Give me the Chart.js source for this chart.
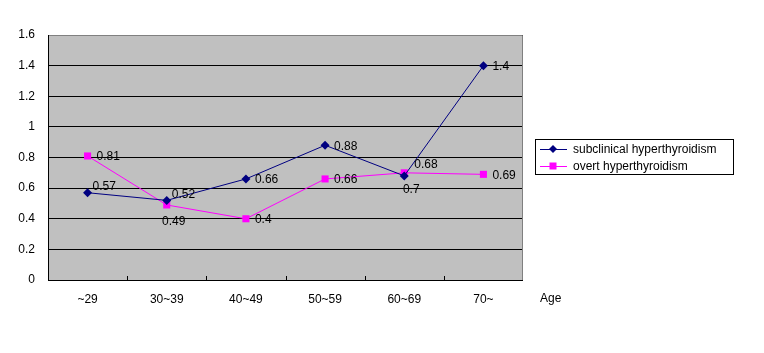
<!DOCTYPE html>
<html lang="en">
<head>
<meta charset="UTF-8">
<title>Hyperthyroidism by age</title>
<script src="https://cdn.jsdelivr.net/npm/chart.js@4.4.1/dist/chart.umd.min.js"></script>
<style>
  html, body { margin: 0; padding: 0; background: #fff; }
  #wrap { width: 764px; height: 353px; }
</style>
</head>
<body>
<div id="wrap"><canvas id="chart" width="764" height="353"></canvas></div>
<script>
// data
const ageGroups = ['~29', '30~39', '40~49', '50~59', '60~69', '70~'];
const subclinical = [0.57, 0.52, 0.66, 0.88, 0.68, 1.4];
const overt = [0.81, 0.49, 0.4, 0.66, 0.7, 0.69];
const yTicks = [0, 0.2, 0.4, 0.6, 0.8, 1, 1.2, 1.4, 1.6];

// where each value label sits next to its point
const subclinicalLabelPos = ['ur', 'ur', 'r', 'r', 'u', 'r'];
const overtLabelPos = ['r', 'b', 'r', 'r', 'b', 'r'];

const FONT = '12px "Liberation Sans", Arial, sans-serif';

// grey plot area, border, small ticks, value labels, legend and axis title
const excelLook = {
  id: 'excelLook',
  beforeDraw(chart) {
    const { ctx, chartArea: a } = chart;
    ctx.save();
    ctx.fillStyle = '#c0c0c0';
    ctx.fillRect(a.left, a.top, a.right - a.left, a.bottom - a.top);
    ctx.restore();
  },
  afterDatasetsDraw(chart) {
    const { ctx, chartArea: a } = chart;
    const x = chart.scales.x;
    ctx.save();
    // border top/right grey
    ctx.strokeStyle = '#808080';
    ctx.lineWidth = 1;
    ctx.beginPath();
    ctx.moveTo(a.left, a.top + 0.5);
    ctx.lineTo(a.right - 0.5, a.top + 0.5);
    ctx.lineTo(a.right - 0.5, a.bottom);
    ctx.stroke();
    // axes
    ctx.strokeStyle = '#000';
    ctx.beginPath();
    ctx.moveTo(a.left + 0.5, a.top);
    ctx.lineTo(a.left + 0.5, a.bottom + 0.5);
    ctx.lineTo(a.right, a.bottom + 0.5);
    ctx.stroke();
    // small category ticks on x axis
    for (let i = 1; i < ageGroups.length; i++) {
      const px = Math.round(x.getPixelForValue(i - 0.5)) + 0.5;
      ctx.beginPath();
      ctx.moveTo(px, a.bottom);
      ctx.lineTo(px, a.bottom - 4);
      ctx.stroke();
    }

    // value labels
    ctx.font = FONT;
    ctx.fillStyle = '#000';
    const posSets = [subclinicalLabelPos, overtLabelPos];
    chart.data.datasets.forEach((ds, di) => {
      const meta = chart.getDatasetMeta(di);
      meta.data.forEach((pt, i) => {
        const txt = String(ds.data[i]);
        const p = posSets[di][i];
        let tx = pt.x + 9, ty = pt.y + 1, align = 'left';
        if (p === 'ur') { tx = pt.x + 5; ty = pt.y - 6; }
        if (p === 'u') { tx = pt.x + 10; ty = pt.y - 11; }
        if (p === 'b') { tx = pt.x + 7; ty = pt.y + 17; align = 'center'; }
        ctx.textAlign = align;
        ctx.textBaseline = 'middle';
        ctx.fillText(txt, tx, ty);
      });
    });

    // legend box
    const lx = 535, ly = 139, lw = 198, lh = 35;
    ctx.fillStyle = '#fff';
    ctx.fillRect(lx, ly, lw, lh);
    ctx.strokeStyle = '#000';
    ctx.strokeRect(lx + 0.5, ly + 0.5, lw, lh);
    chart.data.datasets.forEach((ds, di) => {
      const cy = ly + 10 + di * 17;
      ctx.strokeStyle = ds.borderColor;
      ctx.lineWidth = 1;
      ctx.beginPath();
      ctx.moveTo(lx + 5, cy + 0.5);
      ctx.lineTo(lx + 32, cy + 0.5);
      ctx.stroke();
      ctx.fillStyle = ds.backgroundColor;
      const mx = lx + 18;
      ctx.beginPath();
      if (ds.pointStyle === 'rectRot') {
        ctx.moveTo(mx, cy - 4); ctx.lineTo(mx + 4, cy); ctx.lineTo(mx, cy + 4); ctx.lineTo(mx - 4, cy);
        ctx.closePath();
      } else {
        ctx.rect(mx - 3.5, cy - 3.5, 7, 7);
      }
      ctx.fill();
      ctx.fillStyle = '#000';
      ctx.textAlign = 'left';
      ctx.textBaseline = 'middle';
      ctx.fillText(ds.label, lx + 38, cy + 1);
    });

    // axis title
    ctx.textAlign = 'left';
    ctx.fillText('Age', 540, 299);
    ctx.restore();
  }
};

new Chart(document.getElementById('chart'), {
  type: 'line',
  data: {
    labels: ageGroups,
    datasets: [
      {
        label: 'subclinical hyperthyroidism',
        data: subclinical,
        borderColor: '#000080',
        backgroundColor: '#000080',
        borderWidth: 1,
        pointStyle: 'rectRot',
        pointRadius: 4.5,
        pointBorderWidth: 0,
        tension: 0
      },
      {
        label: 'overt hyperthyroidism',
        data: overt,
        borderColor: '#ff00ff',
        backgroundColor: '#ff00ff',
        borderWidth: 1,
        pointStyle: 'rect',
        pointRadius: 5,
        pointBorderWidth: 0,
        tension: 0
      }
    ]
  },
  options: {
    responsive: false,
    animation: false,
    devicePixelRatio: 1,
    layout: { padding: { left: 0, right: 241, top: 35, bottom: 0 } },
    plugins: {
      legend: { display: false },
      tooltip: { enabled: false }
    },
    scales: {
      x: {
        offset: true,
        grid: { display: false },
        border: { display: false },
        ticks: { color: '#000', font: { family: '"Liberation Sans", Arial, sans-serif', size: 12 }, padding: 4, maxRotation: 0 },
        afterFit(scale) { scale.height = 73; }
      },
      y: {
        min: 0,
        max: 1.6,
        afterBuildTicks(scale) { scale.ticks = yTicks.map(v => ({ value: v })); },
        grid: { color: '#000', lineWidth: 1, drawTicks: false },
        border: { display: false },
        ticks: {
          color: '#000',
          font: { family: '"Liberation Sans", Arial, sans-serif', size: 12 },
          padding: 13,
          callback: v => String(v)
        },
        afterFit(scale) { scale.width = 48; }
      }
    }
  },
  plugins: [excelLook]
});
</script>
</body>
</html>
